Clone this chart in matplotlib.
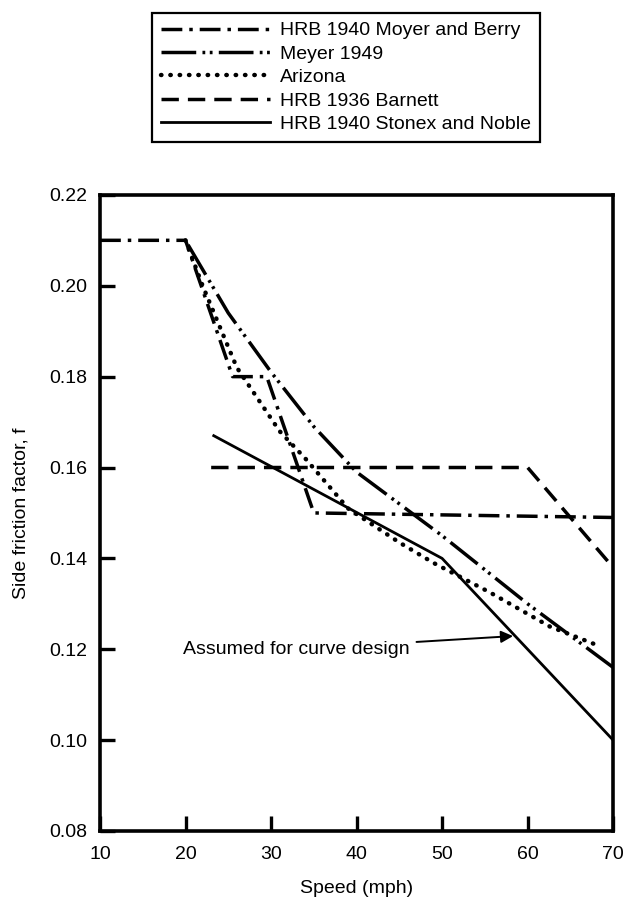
import matplotlib
matplotlib.use('Agg')
import matplotlib.pyplot as plt

plt.rcParams['font.family'] = ['Liberation Sans', 'DejaVu Sans']

# side friction factor vs speed, several sources
moyer_x = [10, 20, 25.5, 29.5, 35, 70]
moyer_f = [0.21, 0.21, 0.18, 0.18, 0.15, 0.149]

meyer_x = [20.3, 25, 30, 35, 40, 50, 60, 70]
meyer_f = [0.209, 0.194, 0.181, 0.169, 0.159, 0.145, 0.130, 0.116]

arizona_x = [20, 22, 24, 26, 28.5, 31, 34, 39, 45, 49, 55.6, 62.6, 68]
arizona_f = [0.21, 0.200, 0.191, 0.182, 0.175, 0.168, 0.162, 0.151, 0.1435, 0.139, 0.1325, 0.125, 0.121]

barnett_x = [23, 60, 70]
barnett_f = [0.16, 0.16, 0.138]

stonex_x = [23.3, 50, 70]
stonex_f = [0.167, 0.14, 0.10]

xticks = [10, 20, 30, 40, 50, 60, 70]
yticks = [0.08, 0.10, 0.12, 0.14, 0.16, 0.18, 0.20, 0.22]

fig = plt.figure(figsize=(6.25, 9.01), dpi=100)
ax = fig.add_axes([0.16, 0.0777, 0.821, 0.706])

lw = 2.5
l1, = ax.plot(moyer_x, moyer_f, color='black', lw=lw, dashes=(6, 2, 1, 2),
              label='HRB 1940 Moyer and Berry')
l2, = ax.plot(meyer_x, meyer_f, color='black', lw=lw, dashes=(10, 1.8, 0.8, 1.3, 0.8, 1.8),
              label='Meyer 1949')
l3, = ax.plot(arizona_x, arizona_f, color='black', lw=3.2, dashes=(0.1, 2),
              dash_capstyle='round', label='Arizona')
l4, = ax.plot(barnett_x, barnett_f, color='black', lw=lw, dashes=(5, 2.6),
              label='HRB 1936 Barnett')
l5, = ax.plot(stonex_x, stonex_f, color='black', lw=2.0,
              label='HRB 1940 Stonex and Noble')

ax.annotate('Assumed for curve design', xy=(58.3, 0.1229), xytext=(19.7, 0.1200),
            fontsize=14, va='center', ha='left',
            arrowprops=dict(arrowstyle='-|>', color='black', lw=1.4,
                            mutation_scale=18, shrinkA=3, shrinkB=0))

ax.set_xlim(10, 70)
ax.set_ylim(0.08, 0.22)
ax.set_xticks(xticks)
ax.set_yticks(yticks)
ax.set_yticklabels(['%.2f' % v for v in yticks])
ax.tick_params(direction='in', length=11, width=2.4, labelsize=14, pad=9)
ax.tick_params(axis='x', pad=11)
for s in ax.spines.values():
    s.set_linewidth(2.6)

ax.set_xlabel('Speed (mph)', fontsize=14, labelpad=12)
ax.set_ylabel('Side friction factor, f', fontsize=14, labelpad=14)

leg = fig.legend(handles=[l1, l2, l3, l4, l5], loc='upper left',
                 bbox_to_anchor=(0.243, 0.9856), borderaxespad=0,
                 fontsize=14, handlelength=5.6, handletextpad=0.55,
                 labelspacing=0.3, borderpad=0.45, fancybox=False, framealpha=1)
leg.get_frame().set_edgecolor('black')
leg.get_frame().set_linewidth(1.6)

fig.savefig('out.png', dpi=100)
